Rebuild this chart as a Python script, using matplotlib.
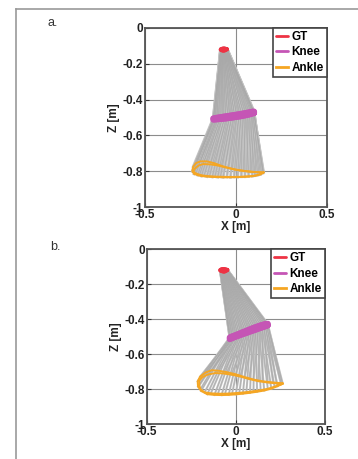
import matplotlib
matplotlib.use('Agg')
import matplotlib.pyplot as plt
from matplotlib.lines import Line2D

plt.rcParams['font.family'] = ['Liberation Sans', 'DejaVu Sans']

# Each stride: stance (14 frames, right -> left) then swing (12 frames, left -> right)

# ---- panel a, stride 1 ----
gt_x_a1 = [-0.048, -0.050, -0.053, -0.056, -0.059, -0.062, -0.065, -0.068, -0.071, -0.074, -0.077, -0.080, -0.082, -0.084,
           -0.085, -0.083, -0.079, -0.075, -0.071, -0.067, -0.063, -0.059, -0.055, -0.052, -0.050, -0.048]
gt_z_a1 = [-0.118, -0.120, -0.122, -0.124, -0.125, -0.126, -0.127, -0.127, -0.127, -0.126, -0.125, -0.124, -0.123, -0.122,
           -0.120, -0.118, -0.116, -0.115, -0.114, -0.114, -0.114, -0.115, -0.116, -0.117, -0.117, -0.118]
knee_x_a1 = [0.100, 0.085, 0.065, 0.045, 0.025, 0.005, -0.015, -0.035, -0.055, -0.075, -0.090, -0.105, -0.115, -0.125,
             -0.125, -0.115, -0.095, -0.070, -0.045, -0.020, 0.005, 0.030, 0.055, 0.075, 0.090, 0.100]
knee_z_a1 = [-0.475, -0.480, -0.485, -0.489, -0.493, -0.496, -0.499, -0.502, -0.505, -0.507, -0.509, -0.510, -0.511, -0.512,
             -0.505, -0.503, -0.500, -0.496, -0.492, -0.488, -0.484, -0.480, -0.475, -0.471, -0.468, -0.467]
ankle_x_a1 = [0.148, 0.120, 0.090, 0.050, 0.010, -0.030, -0.070, -0.100, -0.130, -0.160, -0.190, -0.210, -0.230, -0.240,
              -0.235, -0.220, -0.195, -0.160, -0.120, -0.080, -0.040, 0.000, 0.040, 0.080, 0.110, 0.140]
ankle_z_a1 = [-0.810, -0.822, -0.828, -0.831, -0.833, -0.834, -0.834, -0.833, -0.832, -0.830, -0.827, -0.822, -0.815, -0.800,
              -0.775, -0.755, -0.745, -0.745, -0.755, -0.770, -0.782, -0.792, -0.798, -0.803, -0.805, -0.806]

# ---- panel a, stride 2 ----
gt_x_a2 = [-0.049, -0.051, -0.054, -0.057, -0.060, -0.063, -0.066, -0.069, -0.072, -0.075, -0.078, -0.081, -0.083, -0.085,
           -0.084, -0.081, -0.077, -0.073, -0.069, -0.065, -0.061, -0.057, -0.054, -0.051, -0.049, -0.048]
gt_z_a2 = [-0.119, -0.121, -0.123, -0.125, -0.126, -0.127, -0.128, -0.128, -0.128, -0.127, -0.126, -0.125, -0.124, -0.122,
           -0.119, -0.117, -0.115, -0.114, -0.113, -0.113, -0.114, -0.115, -0.116, -0.117, -0.118, -0.119]
knee_x_a2 = [0.098, 0.092, 0.075, 0.055, 0.035, 0.015, -0.005, -0.025, -0.045, -0.065, -0.082, -0.097, -0.110, -0.120,
             -0.122, -0.105, -0.083, -0.058, -0.033, -0.008, 0.018, 0.043, 0.065, 0.083, 0.095, 0.098]
knee_z_a2 = [-0.473, -0.477, -0.482, -0.487, -0.491, -0.495, -0.498, -0.501, -0.504, -0.506, -0.508, -0.509, -0.510, -0.511,
             -0.506, -0.502, -0.498, -0.494, -0.490, -0.486, -0.482, -0.477, -0.473, -0.469, -0.467, -0.468]
ankle_x_a2 = [0.152, 0.135, 0.105, 0.070, 0.030, -0.010, -0.050, -0.085, -0.115, -0.145, -0.175, -0.200, -0.220, -0.235,
              -0.225, -0.205, -0.180, -0.140, -0.100, -0.060, -0.020, 0.020, 0.060, 0.095, 0.125, 0.150]
ankle_z_a2 = [-0.806, -0.818, -0.825, -0.829, -0.831, -0.832, -0.832, -0.831, -0.830, -0.828, -0.825, -0.820, -0.812, -0.802,
              -0.785, -0.768, -0.760, -0.762, -0.768, -0.778, -0.787, -0.795, -0.800, -0.804, -0.806, -0.807]

# ---- panel b, stride 1 ----
gt_x_b1 = [-0.046, -0.049, -0.052, -0.055, -0.058, -0.061, -0.064, -0.067, -0.070, -0.073, -0.077, -0.081, -0.085, -0.088,
           -0.089, -0.087, -0.083, -0.079, -0.074, -0.069, -0.064, -0.060, -0.056, -0.052, -0.049, -0.046]
gt_z_b1 = [-0.118, -0.121, -0.123, -0.125, -0.127, -0.128, -0.129, -0.129, -0.129, -0.128, -0.127, -0.126, -0.124, -0.122,
           -0.120, -0.117, -0.115, -0.113, -0.112, -0.112, -0.112, -0.113, -0.114, -0.115, -0.116, -0.117]
knee_x_b1 = [0.180, 0.165, 0.148, 0.130, 0.112, 0.094, 0.076, 0.058, 0.040, 0.022, 0.005, -0.010, -0.022, -0.034,
             -0.034, -0.020, 0.000, 0.020, 0.042, 0.064, 0.086, 0.108, 0.130, 0.152, 0.168, 0.180]
knee_z_b1 = [-0.435, -0.441, -0.447, -0.453, -0.460, -0.466, -0.472, -0.479, -0.485, -0.492, -0.498, -0.504, -0.509, -0.514,
             -0.505, -0.499, -0.491, -0.483, -0.474, -0.465, -0.456, -0.447, -0.439, -0.432, -0.428, -0.426]
ankle_x_b1 = [0.264, 0.235, 0.200, 0.160, 0.120, 0.080, 0.040, 0.000, -0.040, -0.080, -0.120, -0.160, -0.195, -0.212,
              -0.214, -0.200, -0.170, -0.135, -0.095, -0.050, 0.000, 0.050, 0.100, 0.150, 0.210, 0.260]
ankle_z_b1 = [-0.768, -0.783, -0.797, -0.808, -0.815, -0.821, -0.826, -0.830, -0.833, -0.834, -0.833, -0.829, -0.810, -0.785,
              -0.755, -0.728, -0.705, -0.692, -0.695, -0.703, -0.715, -0.731, -0.745, -0.755, -0.762, -0.766]

# ---- panel b, stride 2 ----
gt_x_b2 = [-0.047, -0.050, -0.053, -0.056, -0.059, -0.062, -0.065, -0.068, -0.071, -0.075, -0.079, -0.083, -0.086, -0.088,
           -0.088, -0.085, -0.081, -0.077, -0.072, -0.067, -0.062, -0.058, -0.054, -0.051, -0.048, -0.046]
gt_z_b2 = [-0.119, -0.122, -0.124, -0.126, -0.127, -0.128, -0.129, -0.129, -0.128, -0.127, -0.126, -0.125, -0.123, -0.121,
           -0.119, -0.116, -0.114, -0.113, -0.112, -0.112, -0.113, -0.114, -0.115, -0.116, -0.117, -0.118]
knee_x_b2 = [0.172, 0.157, 0.139, 0.121, 0.103, 0.085, 0.067, 0.049, 0.031, 0.013, -0.003, -0.016, -0.028, -0.032,
             -0.030, -0.010, 0.010, 0.031, 0.053, 0.075, 0.097, 0.119, 0.141, 0.160, 0.174, 0.178]
knee_z_b2 = [-0.438, -0.444, -0.450, -0.456, -0.463, -0.469, -0.476, -0.482, -0.488, -0.495, -0.501, -0.506, -0.511, -0.512,
             -0.502, -0.495, -0.487, -0.478, -0.469, -0.460, -0.451, -0.443, -0.435, -0.430, -0.427, -0.428]
ankle_x_b2 = [0.255, 0.218, 0.180, 0.140, 0.100, 0.060, 0.020, -0.020, -0.060, -0.100, -0.140, -0.175, -0.198, -0.205,
              -0.205, -0.188, -0.155, -0.115, -0.072, -0.025, 0.025, 0.075, 0.125, 0.180, 0.230, 0.255]
ankle_z_b2 = [-0.772, -0.786, -0.798, -0.806, -0.812, -0.817, -0.821, -0.824, -0.826, -0.826, -0.824, -0.818, -0.800, -0.778,
              -0.752, -0.732, -0.716, -0.708, -0.710, -0.717, -0.728, -0.742, -0.754, -0.762, -0.767, -0.769]

yticks = [-1, -0.8, -0.6, -0.4, -0.2, 0]
ytick_labels = ['-1', '-0.8', '-0.6', '-0.4', '-0.2', '0']
xticks = [-0.5, 0, 0.5]
xtick_labels = ['-0.5', '0', '0.5']

c_gt = '#ee3344'
c_knee = '#c555b5'
c_ankle = '#f5a623'
c_stick = '#c2c2c2'


def leg_ax(ax, strides, stick_lw):
    for gx, gz, kx, kz, ax_, az_ in strides:
        for i in range(len(gx)):
            ax.plot([gx[i], kx[i], ax_[i]], [gz[i], kz[i], az_[i]], color=c_stick, linewidth=stick_lw,
                    solid_joinstyle='round', zorder=2)
    for gx, gz, kx, kz, ax_, az_ in strides:
        for i in range(len(gx)):
            ax.plot([gx[i], kx[i], ax_[i]], [gz[i], kz[i], az_[i]], color='#a9a9a9', linewidth=0.4, zorder=2)
    for gx, gz, kx, kz, ax_, az_ in strides:
        l1, = ax.plot(gx + gx[:1], gz + gz[:1], color=c_gt, linewidth=2.5, zorder=4, solid_capstyle='round')
        l2, = ax.plot(kx + kx[:1], kz + kz[:1], color=c_knee, linewidth=4.3, zorder=4, solid_capstyle='round')
        l3, = ax.plot(ax_ + ax_[:1], az_ + az_[:1], color=c_ankle, linewidth=1.4, zorder=4)

    ax.set_xlim(-0.5, 0.5)
    ax.set_ylim(-1, 0)
    ax.set_xticks(xticks)
    ax.set_xticklabels(xtick_labels)
    ax.set_yticks(yticks)
    ax.set_yticklabels(ytick_labels)
    ax.tick_params(direction='in', length=3, labelsize=8.5, pad=1.5, colors='#333333')
    for lab in ax.get_xticklabels() + ax.get_yticklabels():
        lab.set_fontweight('bold')
        lab.set_color('#222222')
    ax.grid(True, color='#8c8c8c', linewidth=0.8)
    ax.set_axisbelow(True)
    for s in ax.spines.values():
        s.set_color('#555555')
        s.set_linewidth(1.3)
    ax.set_xlabel('X [m]', fontsize=8.5, fontweight='bold', labelpad=0, color='#222222')
    ax.set_ylabel('Z [m]', fontsize=8.5, fontweight='bold', labelpad=2, color='#222222')

    leg = ax.legend([l1, l2, l3], ['GT', 'Knee', 'Ankle'], loc='upper right', borderaxespad=0,
                    handlelength=1.0, handletextpad=0.3, labelspacing=0.3, borderpad=0.25,
                    fancybox=False, framealpha=1, prop={'size': 8.5, 'weight': 'bold'})
    leg.get_frame().set_edgecolor('#444444')
    leg.get_frame().set_linewidth(1.2)
    for h in leg.get_lines():
        h.set_linewidth(2.0)


fig = plt.figure(figsize=[3.58, 4.59], dpi=100)

ax_a = fig.add_axes([0.405, 0.549, 0.508, 0.39])
ax_b = fig.add_axes([0.41, 0.076, 0.497, 0.381])

leg_ax(ax_a, [(gt_x_a1, gt_z_a1, knee_x_a1, knee_z_a1, ankle_x_a1, ankle_z_a1),
              (gt_x_a2, gt_z_a2, knee_x_a2, knee_z_a2, ankle_x_a2, ankle_z_a2)], 2.0)
leg_ax(ax_b, [(gt_x_b1, gt_z_b1, knee_x_b1, knee_z_b1, ankle_x_b1, ankle_z_b1),
              (gt_x_b2, gt_z_b2, knee_x_b2, knee_z_b2, ankle_x_b2, ankle_z_b2)], 1.5)

fig.text(0.134, 0.95, 'a.', fontsize=9, color='#333333', va='center')
fig.text(0.14, 0.462, 'b.', fontsize=9, color='#333333', va='center')

# page frame
fig.add_artist(Line2D([16 / 358, 16 / 358], [0, 1 - 9 / 459], color='#999999', linewidth=1.2))
fig.add_artist(Line2D([16 / 358, 1], [1 - 9 / 459, 1 - 9 / 459], color='#999999', linewidth=1.2))

fig.savefig('out.png', dpi=100)
